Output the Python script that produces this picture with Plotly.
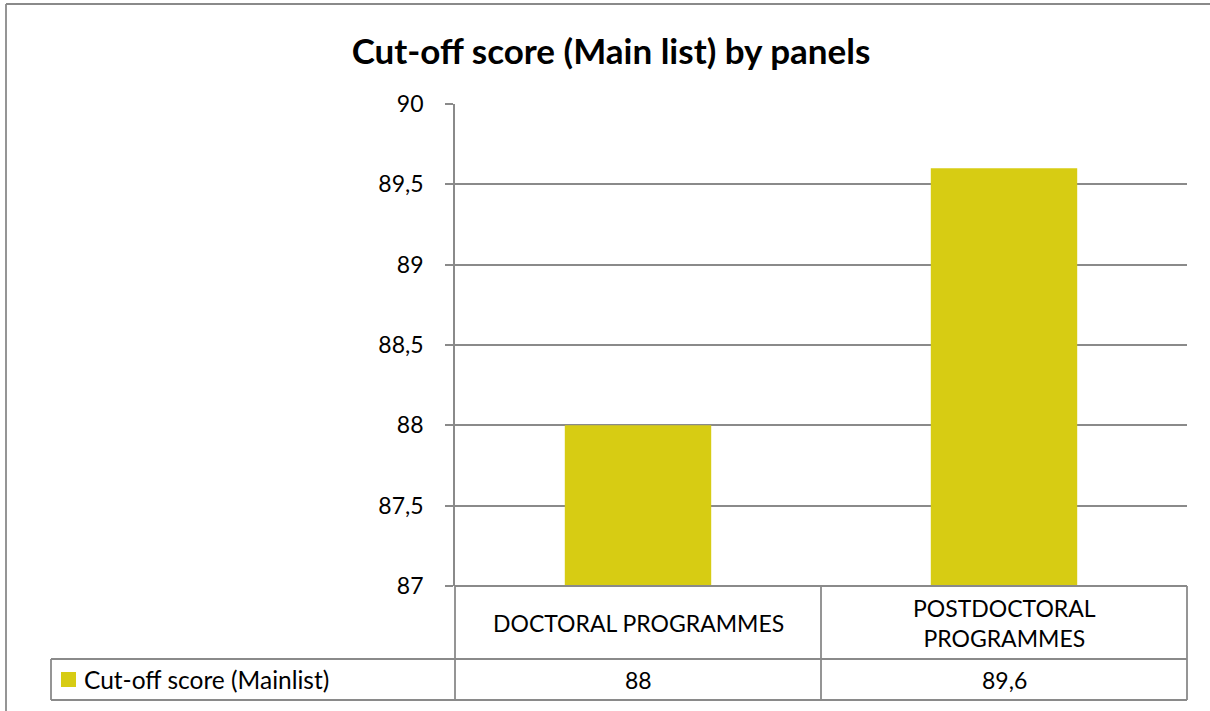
import plotly.graph_objects as go

categories = ["DOCTORAL PROGRAMMES", "POSTDOCTORAL<br>PROGRAMMES"]
values = [88, 89.6]
series_name = "Cut-off score (Mainlist)"
title = "Cut-off score (Main list) by panels"
y_min, y_max, y_step = 87, 90, 0.5

BAR_COLOR = "#D7CC13"
GRID = "#8A8A8A"
FONT = "Lato"
FS = 23

W, H = 1210, 711
L, R, T, B = 455, 1187, 104, 586
pw, ph = R - L, B - T

def py(y):  # pixel y -> paper y
    return (B - y) / ph

def px(x):  # pixel x -> paper x
    return (x - L) / pw

row1_bottom = 659
row2_bottom = 700
legend_left = 51

fig = go.Figure()
fig.add_trace(go.Bar(x=list(range(len(categories))), y=[v - y_min for v in values], base=y_min,
                     marker=dict(color=BAR_COLOR, line=dict(width=0)), width=0.4,
                     name=series_name, showlegend=False, hoverinfo="skip"))

fig.update_layout(
    width=W, height=H,
    margin=dict(l=L, r=W - R, t=T, b=H - B, pad=0),
    paper_bgcolor="white", plot_bgcolor="white",
    separators=",.",
    font=dict(family=FONT, color="black", size=FS),
    title=dict(text="<b>" + title + "</b>", x=(611 / W), xref="container", xanchor="center",
               y=1 - 52 / H, yref="container", yanchor="middle", font=dict(size=35, family=FONT)),
    xaxis=dict(range=[-0.5, len(categories) - 0.5], showticklabels=False, showgrid=False,
               zeroline=False, showline=False, fixedrange=True),
    yaxis=dict(range=[y_min, y_max], dtick=y_step, tick0=y_min, showgrid=True, gridcolor=GRID,
               gridwidth=1.7, zeroline=False, showline=True, linecolor=GRID, linewidth=1.7,
               ticks="outside", ticklen=8, tickcolor=GRID, tickwidth=1.7,
               ticklabelstandoff=17, tickfont=dict(size=FS, family=FONT)),
    bargap=0.6,
)

line = dict(color=GRID, width=1.8)
shapes = []
# outer chart border (left and top)
shapes.append(dict(type="line", xref="paper", yref="paper", x0=px(6), x1=px(W + 5), y0=py(4), y1=py(4), line=line))
shapes.append(dict(type="line", xref="paper", yref="paper", x0=px(6), x1=px(6), y0=py(4), y1=py(H + 5), line=line))
# table horizontal lines
shapes.append(dict(type="line", xref="paper", yref="paper", x0=0, x1=1, y0=py(B), y1=py(B), line=line))
shapes.append(dict(type="line", xref="paper", yref="paper", x0=px(legend_left), x1=1, y0=py(row1_bottom), y1=py(row1_bottom), line=line))
shapes.append(dict(type="line", xref="paper", yref="paper", x0=px(legend_left), x1=1, y0=py(row2_bottom), y1=py(row2_bottom), line=line))
# table vertical lines
n = len(categories)
for i in range(n + 1):
    xp = i / n
    shapes.append(dict(type="line", xref="paper", yref="paper", x0=xp, x1=xp, y0=py(B), y1=py(row2_bottom), line=line))
shapes.append(dict(type="line", xref="paper", yref="paper", x0=px(legend_left), x1=px(legend_left),
                   y0=py(row1_bottom), y1=py(row2_bottom), line=line))
# legend key
shapes.append(dict(type="rect", xref="paper", yref="paper", x0=px(61), x1=px(76), y0=py(687), y1=py(672),
                   fillcolor=BAR_COLOR, line=dict(width=0)))
fig.update_layout(shapes=shapes)

ann = []
for i, (c, v) in enumerate(zip(categories, values)):
    ann.append(dict(x=i, xref="x", y=py((B + row1_bottom) / 2), yref="paper", text=c, showarrow=False,
                    xanchor="center", yanchor="middle", font=dict(size=FS, family=FONT)))
    ann.append(dict(x=i, xref="x", y=py((row1_bottom + row2_bottom) / 2), yref="paper",
                    text=f"{v:g}".replace(".", ","), showarrow=False,
                    xanchor="center", yanchor="middle", font=dict(size=FS, family=FONT)))
ann.append(dict(x=px(82), xref="paper", y=py((row1_bottom + row2_bottom) / 2), yref="paper", text=series_name,
                showarrow=False, xanchor="left", yanchor="middle", font=dict(size=24.5, family=FONT)))
fig.update_layout(annotations=ann)

fig.write_html("out.html", config={"displayModeBar": False},
               post_script="document.body.style.margin='0px';document.body.style.overflow='hidden';")
